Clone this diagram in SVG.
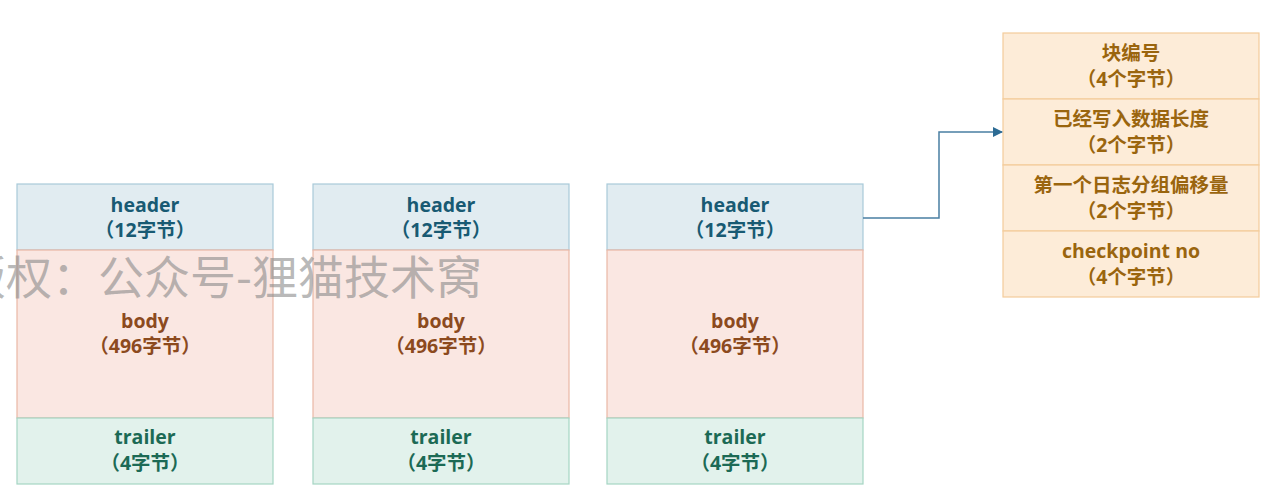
<svg xmlns="http://www.w3.org/2000/svg" width="1273" height="495" viewBox="0 0 1273 495">
<defs>
<style>
text{font-family:"Open Sans","Noto Sans CJK SC",sans-serif;font-weight:bold;font-size:19.5px;text-anchor:middle}
.hd rect{fill:#e1ecf1;stroke:#a9cad9;stroke-width:1.2}
.hd text{fill:#185a73}
.bd rect{fill:#fae7e2;stroke:#eab8a6;stroke-width:1.2}
.bd text{fill:#8c4a1e}
.tr rect{fill:#e2f2ec;stroke:#a5d5c4;stroke-width:1.2}
.tr text{fill:#1c6a55}
.fd rect{fill:#fdecd8;stroke:#f4cc9b;stroke-width:1.2}
.fd text{fill:#9a650e}
.wm{font-family:"Noto Sans CJK SC",sans-serif;font-weight:normal;font-size:46px;text-anchor:start;fill:#8a8a8a;fill-opacity:0.6}
</style>
<marker id="arr" markerWidth="10" markerHeight="10" refX="9" refY="5" orient="auto" markerUnits="userSpaceOnUse">
<path d="M0,0 L10,5 L0,10 Z" fill="#2c6b94"/>
</marker>
</defs>
<rect width="1273" height="495" fill="#ffffff"/>

<g id="block1">
<g class="hd"><rect x="17" y="184" width="256" height="66"/><text x="145" y="212">header</text><text x="145" y="237">（12字节）</text></g>
<g class="bd"><rect x="17" y="250" width="256" height="168"/><text x="145" y="328">body</text><text x="145" y="353">（496字节）</text></g>
<g class="tr"><rect x="17" y="418" width="256" height="66"/><text x="145" y="444">trailer</text><text x="145" y="470">（4字节）</text></g>
</g>

<g id="block2">
<g class="hd"><rect x="313" y="184" width="256" height="66"/><text x="441" y="212">header</text><text x="441" y="237">（12字节）</text></g>
<g class="bd"><rect x="313" y="250" width="256" height="168"/><text x="441" y="328">body</text><text x="441" y="353">（496字节）</text></g>
<g class="tr"><rect x="313" y="418" width="256" height="66"/><text x="441" y="444">trailer</text><text x="441" y="470">（4字节）</text></g>
</g>

<g id="block3">
<g class="hd"><rect x="607" y="184" width="256" height="66"/><text x="735" y="212">header</text><text x="735" y="237">（12字节）</text></g>
<g class="bd"><rect x="607" y="250" width="256" height="168"/><text x="735" y="328">body</text><text x="735" y="353">（496字节）</text></g>
<g class="tr"><rect x="607" y="418" width="256" height="66"/><text x="735" y="444">trailer</text><text x="735" y="470">（4字节）</text></g>
</g>

<g id="header-fields" class="fd">
<g id="f1"><rect x="1003" y="33" width="256" height="66"/><text x="1131" y="60">块编号</text><text x="1131" y="86">（4个字节）</text></g>
<g id="f2"><rect x="1003" y="99" width="256" height="66"/><text x="1131" y="126">已经写入数据长度</text><text x="1131" y="152">（2个字节）</text></g>
<g id="f3"><rect x="1003" y="165" width="256" height="66"/><text x="1131" y="192">第一个日志分组偏移量</text><text x="1131" y="218">（2个字节）</text></g>
<g id="f4"><rect x="1003" y="231" width="256" height="66"/><text x="1131" y="258">checkpoint no</text><text x="1131" y="284">（4个字节）</text></g>
</g>

<g id="connectors">
<path d="M863,218 L939,218 L939,132 L1002,132" fill="none" stroke="#4a7fa3" stroke-width="1.5" marker-end="url(#arr)"/>
</g>

<text class="wm" x="-40" y="294">版权：公众号-狸猫技术窝</text>
</svg>
